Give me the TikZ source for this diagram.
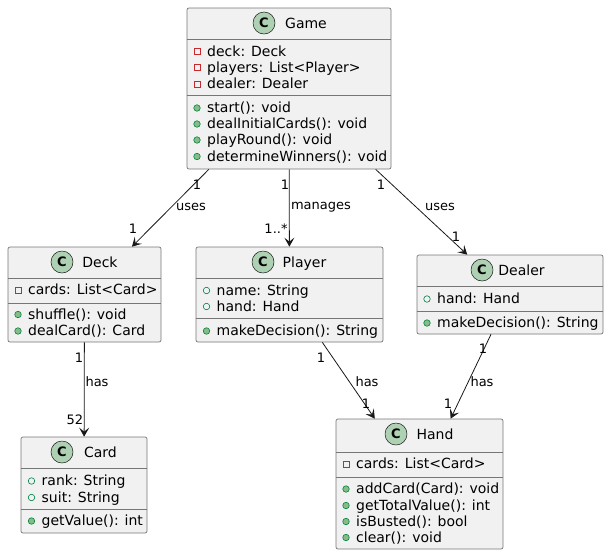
\documentclass[tikz,border=0pt]{standalone}
\usepackage{fontspec}
\setmainfont{DejaVu Sans}
\usepackage{tikz}
\usetikzlibrary{arrows.meta}
\usetikzlibrary{calc}
\usetikzlibrary{fit}

\definecolor{boxfill}{HTML}{F1F1F1}
\definecolor{boxline}{HTML}{767676}
\definecolor{edgeline}{HTML}{181818}
\definecolor{iconfill}{HTML}{ADD1B2}
\definecolor{privred}{HTML}{C82930}
\definecolor{pubgreen}{HTML}{038048}
\definecolor{pubfill}{HTML}{84BE84}

\tikzset{
  classbox/.style={draw=boxline, fill=boxfill, line width=0.7pt, rounded corners=2pt, inner sep=0pt},
  classline/.style={draw=boxline, line width=0.7pt},
  classicon/.style={circle, draw=edgeline, fill=iconfill, line width=0.5pt, minimum size=22pt, inner sep=0pt, font=\fontsize{13}{13}\selectfont\bfseries},
  classtitle/.style={anchor=base, inner sep=0pt, font=\fontsize{14}{16}\selectfont},
  member/.style={anchor=base west, inner sep=0pt, font=\fontsize{14}{16}\selectfont},
  privfield/.style={rectangle, draw=privred, line width=0.6pt, minimum size=6pt, inner sep=0pt},
  pubfield/.style={circle, draw=pubgreen, line width=0.6pt, minimum size=6.5pt, inner sep=0pt},
  pubmethod/.style={circle, draw=pubgreen, fill=pubfill, line width=0.6pt, minimum size=6.5pt, inner sep=0pt},
  assoc/.style={draw=edgeline, line width=0.8pt, -{Stealth[length=9pt,width=10pt,inset=4pt]}},
  mult/.style={inner sep=0pt, font=\fontsize{13}{13}\selectfont}
}

\newcommand{\BJClass}[8]{
  \node[classbox, fit={(#3,#4) (#5,#6)}] (#1) {};
  \node[classicon] (#1-c) at (#7,#4+15) {C};
  \node[classtitle] (#1-title) at (#8,#4+20) {#2};
}
\newcommand{\BJDivider}[2]{
  \draw[classline] (#1.west |- 0,#2) -- (#1.east |- 0,#2);
}
\newcommand{\BJMember}[5]{
  \node[#2] (#1-icon) at (#3,#4-4.5) {};
  \node[member] (#1) at (#3+10,#4) {#5};
}

\begin{document}
\begin{tikzpicture}[x=1pt,y=-1pt]
\useasboundingbox (0,0) rectangle (609,555);

% Game
\BJClass{game}{Game}{187}{8}{391}{169}{264}{306}
\BJDivider{game}{39}
\BJDivider{game}{95}
\BJMember{game-deck}{privfield}{197}{56}{deck: Deck}
\BJMember{game-players}{privfield}{197}{72}{players: List<Player>}
\BJMember{game-dealer}{privfield}{197}{88.5}{dealer: Dealer}
\BJMember{game-start}{pubmethod}{197}{112.5}{start(): void}
\BJMember{game-deal}{pubmethod}{197}{128.5}{dealInitialCards(): void}
\BJMember{game-play}{pubmethod}{197}{144.5}{playRound(): void}
\BJMember{game-win}{pubmethod}{197}{161}{determineWinners(): void}

% Deck
\BJClass{deck}{Deck}{8}{247}{161}{342}{62}{100}
\BJDivider{deck}{278}
\BJDivider{deck}{303}
\BJMember{deck-cards}{privfield}{18}{294.5}{cards: List<Card>}
\BJMember{deck-shuffle}{pubmethod}{18}{319}{shuffle(): void}
\BJMember{deck-deal}{pubmethod}{18}{335.5}{dealCard(): Card}

% Player
\BJClass{player}{Player}{196}{247}{383}{342}{263}{304.5}
\BJDivider{player}{278}
\BJDivider{player}{318.5}
\BJMember{player-name}{pubfield}{206.5}{295}{name: String}
\BJMember{player-hand}{pubfield}{206.5}{311}{hand: Hand}
\BJMember{player-decide}{pubmethod}{206.5}{335.5}{makeDecision(): String}

% Dealer
\BJClass{dealer}{Dealer}{417}{255}{603}{334}{482}{521.5}
\BJDivider{dealer}{286}
\BJDivider{dealer}{311}
\BJMember{dealer-hand}{pubfield}{427}{303.5}{hand: Hand}
\BJMember{dealer-decide}{pubmethod}{427}{327.5}{makeDecision(): String}

% Card
\BJClass{card}{Card}{21}{437}{147}{533}{62}{100.5}
\BJDivider{card}{468}
\BJDivider{card}{509}
\BJMember{card-rank}{pubfield}{31.5}{485.5}{rank: String}
\BJMember{card-suit}{pubfield}{31.5}{502}{suit: String}
\BJMember{card-value}{pubmethod}{31.5}{525.5}{getValue(): int}

% Hand
\BJClass{hand}{Hand}{336}{419}{503}{549}{396}{435}
\BJDivider{hand}{452}
\BJDivider{hand}{477}
\BJMember{hand-cards}{privfield}{346}{468.5}{cards: List<Card>}
\BJMember{hand-add}{pubmethod}{346}{493.5}{addCard(Card): void}
\BJMember{hand-total}{pubmethod}{346}{510}{getTotalValue(): int}
\BJMember{hand-busted}{pubmethod}{346}{526}{isBusted(): bool}
\BJMember{hand-clear}{pubmethod}{346}{542}{clear(): void}

% associations
\draw[assoc] (game) -- (deck);
\node[mult] (gd-src) at (197,185) {1};
\node[mult] (gd-lbl) at (191,207) {uses};
\node[mult] (gd-dst) at (133,229) {1};

\draw[assoc] (game) -- (player);
\node[mult] (gp-src) at (285,185) {1};
\node[mult] (gp-lbl) at (321,207) {manages};
\node[mult] (gp-dst) at (276,229) {1..*};

\draw[assoc] (game) -- (dealer);
\node[mult] (gr-src) at (381,185) {1};
\node[mult] (gr-lbl) at (440,207) {uses};
\node[mult] (gr-dst) at (456,237) {1};

\draw[assoc] (deck) -- (card);
\node[mult] (dc-src) at (79,358) {1};
\node[mult] (dc-lbl) at (97,382) {has};
\node[mult] (dc-dst) at (75,420) {52};

\draw[assoc] (player) -- (hand);
\node[mult] (ph-src) at (321,358) {1};
\node[mult] (ph-lbl) at (367,382) {has};
\node[mult] (ph-dst) at (366,404) {1};

\draw[assoc] (dealer) -- (hand);
\node[mult] (rh-src) at (483,349) {1};
\node[mult] (rh-lbl) at (482,382) {has};
\node[mult] (rh-dst) at (448,404) {1};
\end{tikzpicture}
\end{document}
